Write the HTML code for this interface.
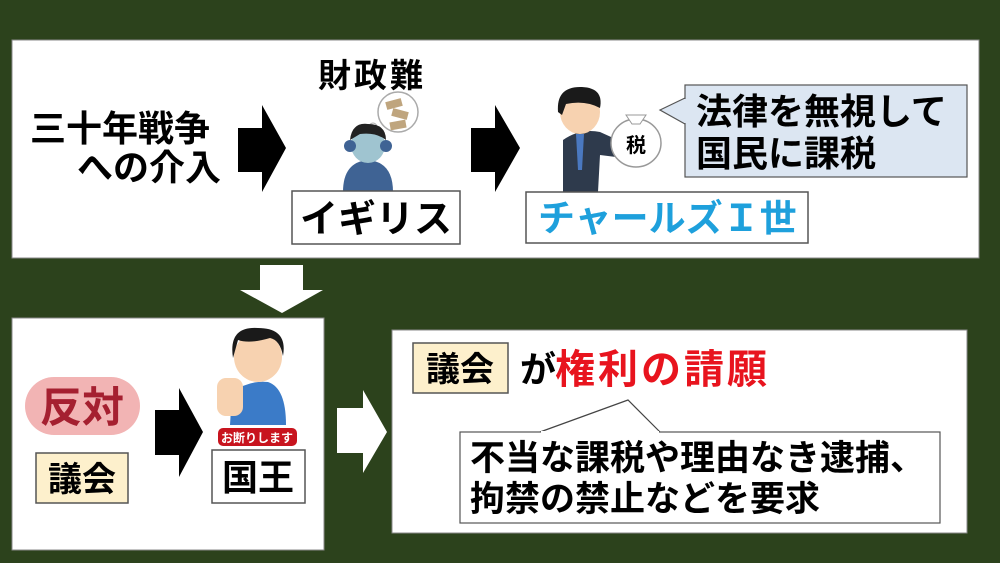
<!DOCTYPE html>
<html><head><meta charset="utf-8"><style>
html,body{margin:0;padding:0;background:#2c421c;}
svg{display:block}
text{font-family:"Liberation Sans","Noto Sans CJK JP",sans-serif;font-weight:bold;}
</style></head><body>
<svg width="1000" height="563" viewBox="0 0 1000 563" xmlns="http://www.w3.org/2000/svg">
<rect width="1000" height="563" fill="#2c421c"/>
<rect x="12" y="40" width="967" height="218" fill="#fff" stroke="#888" stroke-width="1"/>
<text x="30" y="141" font-size="36">三十年戦争</text>
<text x="77" y="180" font-size="36">への介入</text>
<polygon points="238,128 262,128 262,105 286,148 262,192 262,172 238,172" fill="#000"/>
<text x="318" y="87" font-size="33" letter-spacing="3">財政難</text>
<circle cx="398" cy="112" r="20" fill="#fff" stroke="#aaa" stroke-width="1.5"/>
<circle cx="373" cy="127" r="4" fill="#fff" stroke="#aaa"/>
<circle cx="367" cy="133" r="2.5" fill="#fff" stroke="#aaa"/>
<rect x="386" y="100" width="16" height="8" fill="#bfa57e" transform="rotate(-15 394 104)"/>
<rect x="392" y="110" width="16" height="8" fill="#bfa57e" transform="rotate(15 400 114)"/>
<rect x="390" y="121" width="16" height="8" fill="#bfa57e" transform="rotate(-10 398 125)"/>
<path d="M343 192 Q343 162 368 160 Q393 162 393 192Z" fill="#3f6394"/>
<ellipse cx="368" cy="145" rx="17" ry="18" fill="#9fc4d0"/>
<path d="M350 140 Q352 122 368 124 Q386 124 386 140 Q376 132 360 134Z" fill="#222"/>
<circle cx="350" cy="146" r="6" fill="#3f6394"/><circle cx="386" cy="146" r="6" fill="#3f6394"/>
<rect x="292" y="191" width="168" height="53" fill="#fff" stroke="#555" stroke-width="1.5"/>
<text x="376" y="232" font-size="38" text-anchor="middle">イギリス</text>
<polygon points="471,128 495,128 495,105 520,148 495,192 495,172 471,172" fill="#000"/>
<path d="M563 192 L563 140 Q580 128 600 132 L640 150 L640 160 L600 155 L598 192Z" fill="#2e3a4c"/>
<polygon points="576,134 584,134 582,170 578,170" fill="#4a78c0"/>
<ellipse cx="580" cy="112" rx="20" ry="22" fill="#f7d2b0"/>
<path d="M558 112 Q556 86 582 87 Q604 88 600 108 Q585 100 566 104 L562 115Z" fill="#1a1a1a"/>
<ellipse cx="636" cy="143" rx="25" ry="24" fill="#fff" stroke="#999" stroke-width="1.5"/>
<path d="M626 115 L646 115 L640 124 L632 124Z" fill="#fff" stroke="#999"/>
<text x="636" y="152" font-size="20" text-anchor="middle">税</text>
<path d="M685 98 L660 110 L685 124" fill="#dce6f2" stroke="#555" stroke-width="1.2"/>
<rect x="685" y="85" width="282" height="92" fill="#dce6f2" stroke="#555" stroke-width="1.2"/>
<line x1="685" y1="99" x2="685" y2="123" stroke="#dce6f2" stroke-width="2"/>
<text x="696" y="124" font-size="36">法律を無視して</text>
<text x="696" y="166" font-size="36">国民に課税</text>
<rect x="526" y="192" width="282" height="51" fill="#fff" stroke="#555" stroke-width="1.5"/>
<text x="538" y="231" font-size="37" fill="#1ea0dc">チャールズＩ世</text>
<polygon points="260,265 303,265 303,290 323,290 282,313 240,290 260,290" fill="#fff"/>
<rect x="12" y="318" width="312" height="232" fill="#fff" stroke="#888"/>
<rect x="25" y="377" width="115" height="58" rx="29" fill="#f2b4b4"/>
<text x="82" y="422" font-size="42" fill="#a52030" text-anchor="middle">反対</text>
<rect x="36" y="453" width="92" height="50" fill="#fdf0cc" stroke="#555" stroke-width="1.5"/>
<text x="82" y="491" font-size="34" text-anchor="middle">議会</text>
<polygon points="155,410 179,410 179,388 203,432 179,477 179,455 155,455" fill="#000"/>
<path d="M230 425 L232 392 Q250 380 268 382 Q286 388 286 425Z" fill="#3b7bc8"/>
<ellipse cx="258" cy="357" rx="24" ry="25" fill="#f7d2b0"/>
<path d="M233 358 Q228 326 258 328 Q288 328 283 356 Q280 340 270 338 Q250 344 238 340Z" fill="#1a1a1a"/>
<rect x="217" y="378" width="26" height="38" rx="9" fill="#f7d2b0"/>
<rect x="218" y="428" width="79" height="18" rx="5" fill="#c8141e"/>
<text x="257" y="442" font-size="12" fill="#fff" text-anchor="middle">お断りします</text>
<rect x="212" y="450" width="93" height="53" fill="#fff" stroke="#555" stroke-width="1.5"/>
<text x="258" y="490" font-size="36" text-anchor="middle">国王</text>
<polygon points="337,408 363,408 363,390 387,432 363,473 363,453 337,453" fill="#fff"/>
<rect x="392" y="330" width="575" height="203" fill="#fff" stroke="#888"/>
<rect x="413" y="343" width="95" height="50" fill="#fdf0cc" stroke="#555" stroke-width="1.5"/>
<text x="460" y="381" font-size="34" text-anchor="middle">議会</text>
<text x="520" y="382" font-size="36">が</text>
<text x="555" y="383" font-size="40" letter-spacing="3" fill="#e8141e">権利の請願</text>
<path d="M540 432 L628 400 L660 432" fill="#fff" stroke="#444" stroke-width="1.2"/>
<rect x="460" y="432" width="480" height="91" fill="#fff" stroke="#555" stroke-width="1.2"/>
<line x1="541" y1="432" x2="659" y2="432" stroke="#fff" stroke-width="2"/>
<text x="470" y="470" font-size="35">不当な課税や理由なき逮捕、</text>
<text x="470" y="511" font-size="35">拘禁の禁止などを要求</text>
</svg>
</body></html>
